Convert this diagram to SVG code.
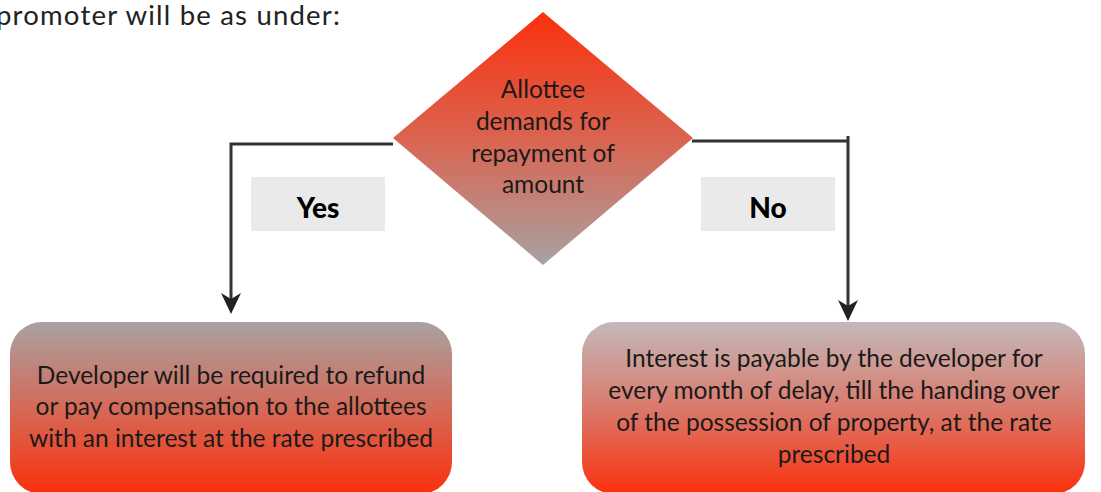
<svg xmlns="http://www.w3.org/2000/svg" width="1101" height="492" viewBox="0 0 1101 492">
<style>
.t{font-family:"Lato","Noto Sans","Liberation Sans",sans-serif;font-size:24.5px;fill:#1a1a1a;text-anchor:middle}
.lbl{font-family:"Lato","Liberation Sans",sans-serif;font-size:28px;font-weight:900;fill:#000;text-anchor:middle}
.ln{fill:none;stroke:#333;stroke-width:3}
.ah{fill:#222}
</style>
<defs>
<linearGradient id="gd" x1="0" y1="0" x2="0" y2="1"><stop offset="0" stop-color="#FA300C"/><stop offset="0.5" stop-color="#DA6450"/><stop offset="1" stop-color="#A8A2A2"/></linearGradient>
<linearGradient id="gl" x1="0" y1="0" x2="0" y2="1"><stop offset="0" stop-color="#A8A2A2"/><stop offset="0.5" stop-color="#D46A58"/><stop offset="1" stop-color="#FA300C"/></linearGradient>
<linearGradient id="gr" x1="0" y1="0" x2="0" y2="1"><stop offset="0" stop-color="#C3B9B9"/><stop offset="0.5" stop-color="#DA7A6C"/><stop offset="1" stop-color="#FA300C"/></linearGradient>
</defs>
<text x="-4" y="25" font-family="Lato,'Liberation Sans',sans-serif" font-size="27.5" letter-spacing="1.2" fill="#222">promoter will be as under:</text>
<g id="connectors">
<path class="ln" d="M393,144 H231 V300"/>
<path class="ah" d="M231,314 L221,293 L231,299 L241,293 Z"/>
<path class="ln" d="M692,141 H848 M848,136 V307"/>
<path class="ah" d="M848,321 L838,300 L848,306 L858,300 Z"/>
</g>
<g id="yes-label"><rect x="251" y="177" width="134" height="54" fill="#EAEAEA"/><text class="lbl" x="318" y="218">Yes</text></g>
<g id="no-label"><rect x="701" y="177" width="134" height="54" fill="#EAEAEA"/><text class="lbl" x="768" y="218">No</text></g>
<g id="decision">
<polygon points="543,12 693,138 543,265 393,138" fill="url(#gd)"/>
<text class="t" x="543" y="98">Allottee</text>
<text class="t" x="543" y="130">demands for</text>
<text class="t" x="543" y="162">repayment of</text>
<text class="t" x="543" y="193">amount</text>
</g>
<g id="yes-result">
<rect x="10" y="322" width="442" height="172" rx="32" fill="url(#gl)"/>
<text class="t" x="231" y="384">Developer will be required to refund</text>
<text class="t" x="231" y="415">or pay compensation to the allottees</text>
<text class="t" x="231" y="447">with an interest at the rate prescribed</text>
</g>
<g id="no-result">
<rect x="582" y="322" width="503" height="172" rx="32" fill="url(#gr)"/>
<text class="t" x="834" y="367">Interest is payable by the developer for</text>
<text class="t" x="834" y="399">every month of delay, till the handing over</text>
<text class="t" x="834" y="431">of the possession of property, at the rate</text>
<text class="t" x="834" y="463">prescribed</text>
</g>
</svg>
